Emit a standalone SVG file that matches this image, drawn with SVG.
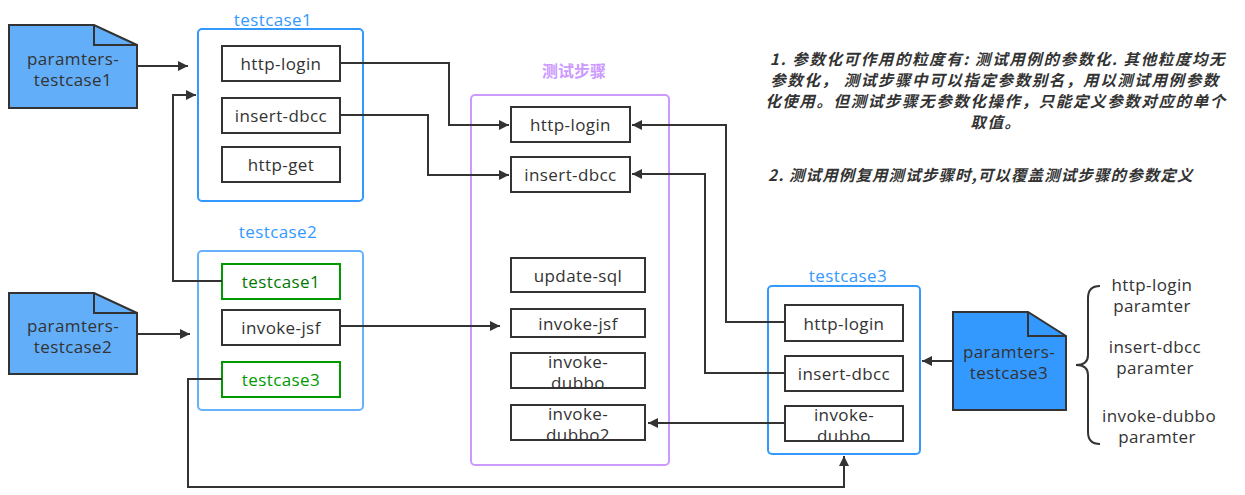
<svg xmlns="http://www.w3.org/2000/svg" width="1245" height="495" viewBox="0 0 1245 495">
<defs>
<marker id="arr" viewBox="0 0 10 10" refX="10" refY="5" markerWidth="10" markerHeight="10" markerUnits="userSpaceOnUse" orient="auto">
<path d="M0,0 L10,5 L0,10 Z" fill="#333"/>
</marker>
</defs>
<style>
text{font-family:"Open Sans","Noto Sans","Noto Sans CJK SC",sans-serif;font-size:17px;letter-spacing:0.4px;fill:#333;text-anchor:middle;dominant-baseline:central}
.box{fill:#fff;stroke:#333;stroke-width:2}
.gbox{fill:#fff;stroke:#009900;stroke-width:2}
.doc{stroke:#333;stroke-width:2;stroke-linejoin:miter}
.cont{fill:none;stroke-width:2}
.con{fill:none;stroke:#333;stroke-width:2;marker-end:url(#arr)}
.note{font-family:"Noto Sans CJK SC","Noto Sans",sans-serif;font-weight:bold;font-style:italic;font-size:15.5px;letter-spacing:1.6px;fill:#333}
</style>
<rect width="1245" height="495" fill="#fff"/>

<g id="param1">
<path class="doc" fill="#62aef9" d="M9,25 H94 L137,45 V108 H9 Z"/>
<path class="doc" fill="none" d="M94,25 V45 H137"/>
<text x="73" y="58">paramters-</text>
<text x="73" y="79">testcase1</text>
</g>
<g id="param2">
<path class="doc" fill="#62aef9" d="M9,293 H94 L137,313 V374 H9 Z"/>
<path class="doc" fill="none" d="M94,293 V313 H137"/>
<text x="73" y="325">paramters-</text>
<text x="73" y="346">testcase2</text>
</g>
<g id="param3">
<path class="doc" fill="#3399ff" d="M953,312 H1028 L1066,336 V410 H953 Z"/>
<path class="doc" fill="none" d="M1028,312 V336 H1066"/>
<text x="1009" y="351">paramters-</text>
<text x="1009" y="372">testcase3</text>
</g>

<g id="testcase1">
<rect class="cont" x="198" y="29" width="165" height="172" rx="4" stroke="#3399ff"/>
<text x="273" y="19" style="fill:#3399ff">testcase1</text>
<rect class="box" x="222" y="46" width="118" height="35"/>
<text x="281" y="63.5">http-login</text>
<rect class="box" x="222" y="98" width="118" height="35"/>
<text x="281" y="115.5">insert-dbcc</text>
<rect class="box" x="222" y="147" width="118" height="35"/>
<text x="281" y="164.5">http-get</text>
</g>

<g id="testcase2">
<rect class="cont" x="198" y="251" width="165" height="159" rx="4" stroke="#66b2ff"/>
<text x="278" y="231" style="fill:#3399ff">testcase2</text>
<rect class="gbox" x="222" y="264" width="118" height="35"/>
<text x="281" y="281.5" style="fill:#007a00">testcase1</text>
<rect class="box" x="222" y="310" width="118" height="35"/>
<text x="281" y="327.5">invoke-jsf</text>
<rect class="gbox" x="222" y="362" width="118" height="35"/>
<text x="281" y="379.5" style="fill:#009900">testcase3</text>
</g>

<g id="steps">
<rect class="cont" x="471" y="95" width="198" height="370" rx="4" stroke="#cc99ff"/>
<text x="574" y="70" style="fill:#cc99ff;font-weight:bold;font-size:16px;letter-spacing:0;font-family:'Noto Sans CJK SC',sans-serif">测试步骤</text>
<rect class="box" x="511" y="107" width="119" height="35"/>
<text x="570.5" y="124.5">http-login</text>
<rect class="box" x="511" y="157" width="119" height="35"/>
<text x="570.5" y="174.5">insert-dbcc</text>
<rect class="box" x="511" y="258" width="134" height="34"/>
<text x="578" y="275">update-sql</text>
<rect class="box" x="511" y="309" width="134" height="28"/>
<text x="578" y="323">invoke-jsf</text>
<rect class="box" x="511" y="353" width="134" height="35"/>
<text x="578" y="361">invoke-</text>
<text x="578" y="382">dubbo</text>
<rect class="box" x="511" y="405" width="134" height="35"/>
<text x="578" y="413">invoke-</text>
<text x="578" y="434">dubbo2</text>
</g>

<g id="testcase3">
<rect class="cont" x="768" y="286" width="152" height="168" rx="4" stroke="#3399ff"/>
<text x="848" y="275" style="fill:#3399ff">testcase3</text>
<rect class="box" x="785" y="305" width="118" height="36"/>
<text x="844" y="323">http-login</text>
<rect class="box" x="785" y="356" width="118" height="35"/>
<text x="844" y="373.5">insert-dbcc</text>
<rect class="box" x="785" y="406" width="118" height="35"/>
<text x="844" y="414">invoke-</text>
<text x="844" y="435">dubbo</text>
</g>

<g id="params-list">
<path d="M1100,286 Q1088,286 1088,298 V355 Q1088,365 1076,365 Q1088,365 1088,375 V432 Q1088,444 1100,444" fill="none" stroke="#333" stroke-width="2"/>
<text x="1152" y="284">http-login</text>
<text x="1152" y="305">paramter</text>
<text x="1155" y="346">insert-dbcc</text>
<text x="1155" y="367">paramter</text>
<text x="1159" y="415">invoke-dubbo</text>
<text x="1157" y="436">paramter</text>
</g>

<g id="notes">
<text class="note" x="998" y="58">1. 参数化可作用的粒度有: 测试用例的参数化.  其他粒度均无</text>
<text class="note" x="995" y="79">参数化， 测试步骤中可以指定参数别名，用以测试用例参数</text>
<text class="note" x="996" y="100">化使用。但测试步骤无参数化操作，只能定义参数对应的单个</text>
<text class="note" x="996" y="121">取值。</text>
<text class="note" x="768" y="174" style="text-anchor:start;letter-spacing:1.1px">2. 测试用例复用测试步骤时,可以覆盖测试步骤的参数定义</text>
</g>

<g id="connectors">
<path class="con" d="M137,66 H188"/>
<path class="con" d="M222,281 H173 V95 H196"/>
<path class="con" d="M137,334 H190"/>
<path class="con" d="M222,379 H188 V487 H844 V456"/>
<path class="con" d="M340,63 H449 V125 H509"/>
<path class="con" d="M340,115 H428 V175 H509"/>
<path class="con" d="M340,326 H500"/>
<path class="con" d="M785,322 H726 V125 H632"/>
<path class="con" d="M785,373 H705 V174 H632"/>
<path class="con" d="M785,423 H648"/>
<path class="con" d="M953,361 H922"/>
</g>
</svg>
